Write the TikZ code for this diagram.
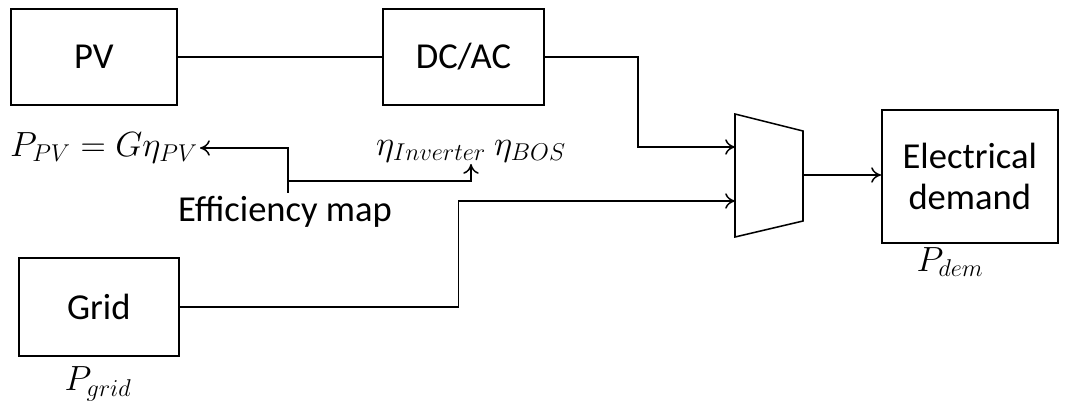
\documentclass[tikz,border=0pt]{standalone}
\usepackage{fontspec}
\setmainfont{Carlito}
\usetikzlibrary{calc,arrows.meta}

\begin{document}
\begin{tikzpicture}[line width=1.1pt, >={To[length=7pt, width=11pt]},
  block/.style={rectangle, draw, anchor=north west},
  lbl/.style={font=\fontsize{26}{31}\selectfont, align=center},
  eq/.style={font=\fontsize{25}{30}\selectfont, inner sep=1pt}]
\useasboundingbox (0,0) rectangle (26.675,-10.225);

\node (pv) [block, minimum width=41.5mm, minimum height=24mm] at (0.25,-0.2) {};
\node [lbl] at (pv.center) {PV};

\node (dcac) [block, minimum width=40.3mm, minimum height=24mm] at (9.55,-0.2) {};
\node [lbl] at (dcac.center) {DC/AC};

\node (grid) [block, minimum width=40mm, minimum height=24.5mm] at (0.45,-6.425) {};
\node [lbl] at (grid.center) {Grid};
\node (pgrid) [eq] at (2.45,-9.6) {$P_{grid}$};

\node (dem) [block, minimum width=44mm, minimum height=33.25mm] at (22.025,-2.725) {};
\node [lbl] at (dem.center) {Electrical\\[-2pt]demand};
\node (pdem) [eq] at (23.75,-6.55) {$P_{dem}$};

% mux
\draw (18.375,-2.85) -- (20.075,-3.275) -- (20.075,-5.525) -- (18.375,-5.925) -- cycle;
\coordinate (in1) at (18.375,-3.675);
\coordinate (in2) at (18.375,-5.025);
\coordinate (out) at (20.075,-4.375);

% efficiency map
\node (ppv) [eq, anchor=east] at (5.0,-3.7) {$P_{PV} = G\eta_{PV}$};
\node (eta) [eq, anchor=south] at (11.775,-4.1) {$\eta_{Inverter}\ \eta_{BOS}$};
\node (effmap) [lbl, inner sep=2pt] at (7.125,-5.3) {Efficiency map};
\coordinate (split) at (7.2,-4.525);

\draw (pv) -- (dcac);
\draw [->] (dcac.east) -- ++(2.325,0) |- (in1);
\draw [->] (grid.east) -- ++(6.975,0) |- (in2);
\draw [->] (out) -- (out -| dem.west);
\draw [->] (effmap.north -| split) |- (ppv.east);
\draw [->] (split) -| (eta.south);
\end{tikzpicture}
\end{document}
